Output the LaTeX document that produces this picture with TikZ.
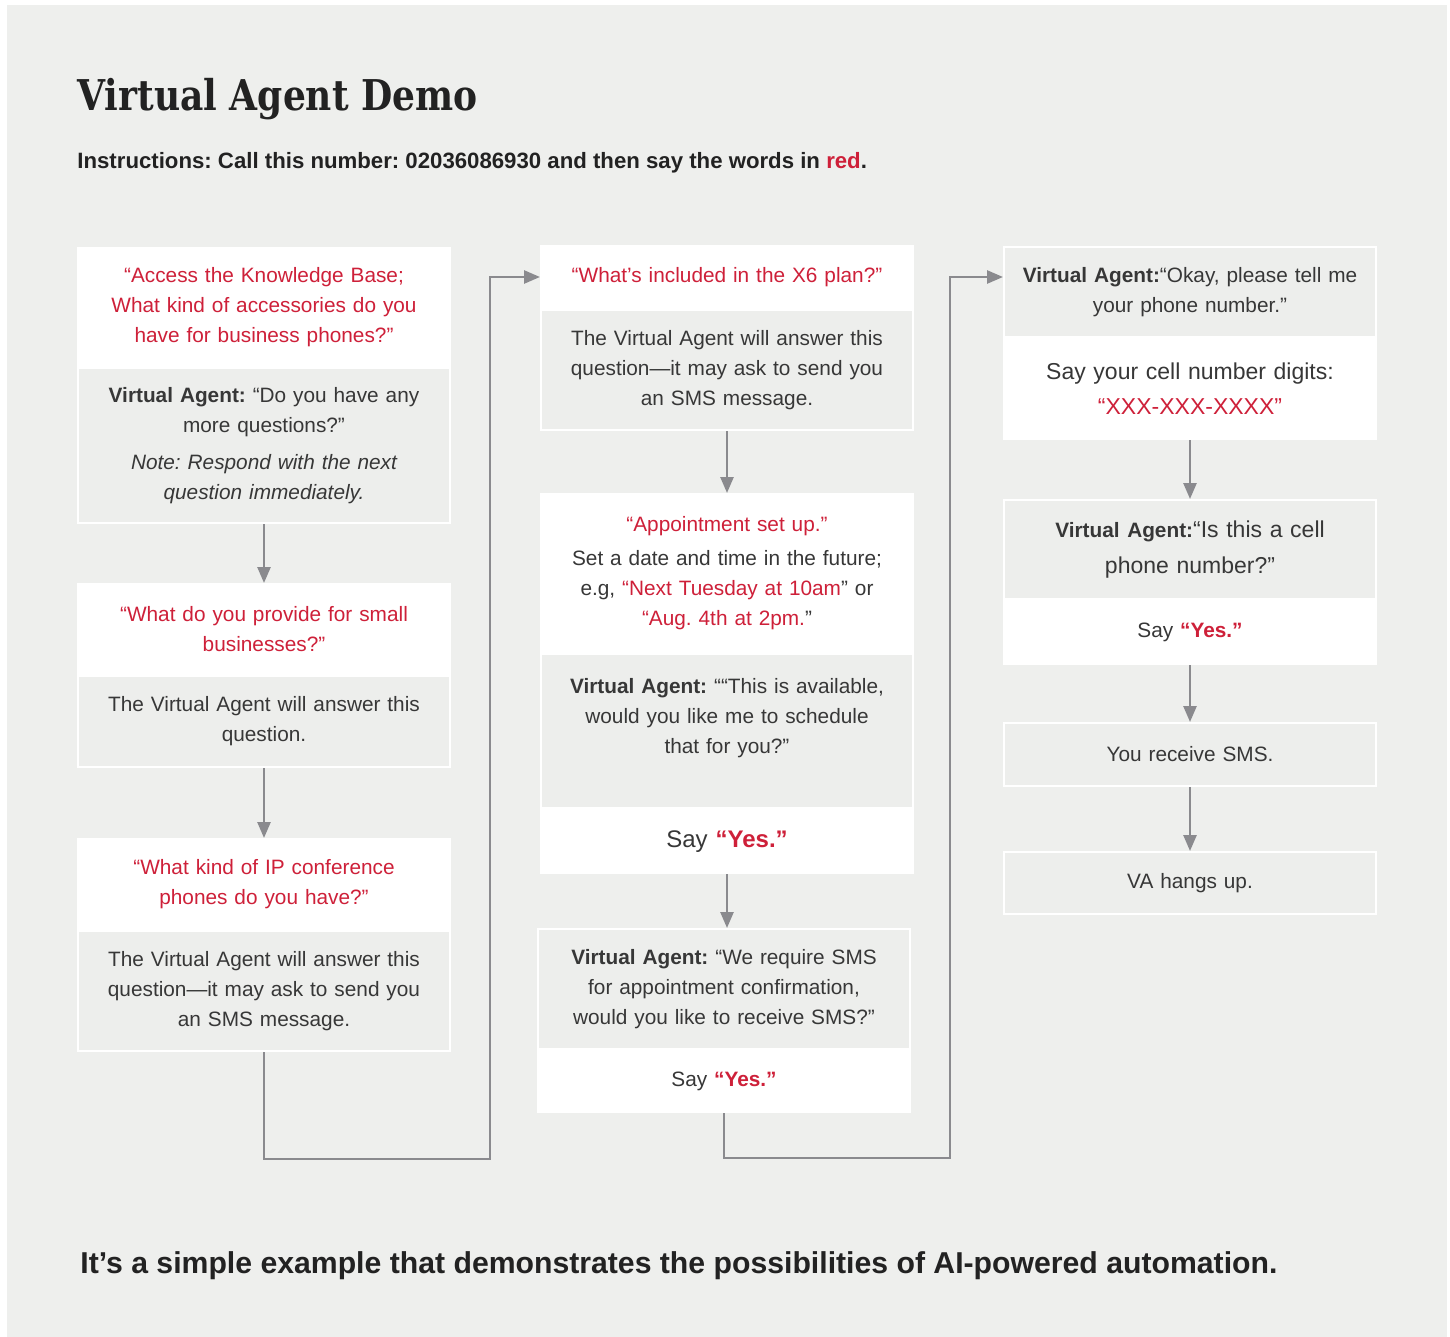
\documentclass[tikz,border=0pt]{standalone}
\usepackage{fontspec}
\setmainfont{Liberation Sans}
\newfontfamily\titlefont[FakeStretch=0.85]{DejaVu Serif}
\usetikzlibrary{positioning, arrows.meta}
\frenchspacing
\definecolor{PageGray}{RGB}{238,239,237}
\definecolor{PanelGray}{RGB}{237,238,236}
\definecolor{SayRed}{RGB}{206,32,57}
\definecolor{InkGray}{RGB}{55,55,55}
\definecolor{TitleInk}{RGB}{34,34,34}
\definecolor{FlowGray}{RGB}{138,138,142}
\newcommand{\sayit}[1]{\textcolor{SayRed}{#1}}
\newcommand{\vabold}{\textbf{Virtual Agent:}}
\newcommand{\sayyes}{Say \textbf{\sayit{“Yes.”}}}

\tikzset{
  card/.style={draw=white, line width=1pt, text width=180pt, inner xsep=3pt, inner ysep=0pt,
    align=center, text=InkGray, font=\fontsize{10.4}{15}\selectfont},
  say/.style={card, fill=white},
  ask/.style={say, text=SayRed},
  info/.style={card, fill=PanelGray},
  flow/.style={draw=FlowGray, line width=1.3pt, -{Triangle[width=6.5pt,length=8pt]}},
}

\begin{document}
\begin{tikzpicture}[x=0.5pt, y=-0.5pt]
  \useasboundingbox (0,0) rectangle (1450,1337);
  \fill[white] (0,0) rectangle (1450,1337);
  \fill[PageGray] (7,5) rectangle (1447,1337);

  % heading
  \node[anchor=base west, inner sep=0pt, text=TitleInk, font=\titlefont\bfseries\fontsize{21.2}{26}\selectfont] (title) at (77,111) {Virtual Agent Demo};
  \node[anchor=base west, inner sep=0pt, text=TitleInk, font=\bfseries\fontsize{11.1}{13}\selectfont] (instr) at (77,169)
    {Instructions: Call this number: 02036086930 and then say the words in \sayit{red}.};

  % first column
  \node[ask, minimum height=59pt, anchor=north west] (kb) at (77,247)
    {“Access the Knowledge Base;\\What kind of accessories do you\\have for business phones?”};
  \node[info, minimum height=77.5pt, below=0pt of kb] (kbva)
    {\vabold{} “Do you have any\\more questions?”\\[3.5pt]{\itshape Note: Respond with the next\\question immediately.}};
  \node[ask, minimum height=45pt, anchor=north west] (smb) at (77,583)
    {“What do you provide for small\\businesses?”};
  \node[info, minimum height=45.5pt, below=0pt of smb] (smbva)
    {The Virtual Agent will answer this\\question.};
  \node[ask, minimum height=45pt, anchor=north west] (ipc) at (77,838)
    {“What kind of IP conference\\phones do you have?”};
  \node[info, minimum height=60pt, below=0pt of ipc] (ipcva)
    {The Virtual Agent will answer this\\question—it may ask to send you\\an SMS message.};

  % second column
  \node[ask, minimum height=31pt, anchor=north west] (plan) at (540,245)
    {“What’s included in the X6 plan?”};
  \node[info, minimum height=60pt, below=0pt of plan] (planva)
    {The Virtual Agent will answer this\\question—it may ask to send you\\an SMS message.};
  \node[say, minimum height=79pt, anchor=north west] (appt) at (540,493)
    {\sayit{“Appointment set up.”}\\[2pt]Set a date and time in the future;\\e.g, \sayit{“Next Tuesday at 10am}” or\\\sayit{“Aug. 4th at 2pm.}”};
  \node[info, minimum height=77pt, below=0pt of appt] (apptva)
    {\vabold{} ““This is available,\\would you like me to schedule\\that for you?”\\\mbox{}};
  \node[say, minimum height=31.5pt, below=0pt of apptva, font=\fontsize{12}{15}\selectfont] (apptyes)
    {\sayyes};
  \node[info, minimum height=60pt, anchor=north west] (smsva) at (537,928)
    {\vabold{} “We require SMS\\for appointment confirmation,\\would you like to receive SMS?”};
  \node[say, minimum height=30.5pt, below=0pt of smsva] (smsyes)
    {\sayyes};

  % third column
  \node[info, minimum height=45pt, anchor=north west] (phone) at (1003,246)
    {\vabold“Okay, please tell me\\your phone number.”};
  \node[say, minimum height=50pt, below=0pt of phone, font=\fontsize{11.5}{17.5}\selectfont] (digits)
    {Say your cell number digits:\\\sayit{“XXX-XXX-XXXX”}};
  \node[info, minimum height=49.5pt, anchor=north west, font=\fontsize{11.5}{18}\selectfont] (cell) at (1003,499)
    {{\fontsize{10.4}{18}\selectfont\bfseries Virtual Agent:}“Is this a cell\\phone number?”};
  \node[say, minimum height=31.5pt, below=0pt of cell] (cellyes)
    {\sayyes};
  \node[info, minimum height=31.5pt, anchor=north west] (recv) at (1003,722)
    {You receive SMS.};
  \node[info, minimum height=31pt, anchor=north west] (hangup) at (1003,851)
    {VA hangs up.};

  % connectors
  \draw[flow] (kbva) -- (smb);
  \draw[flow] (smbva) -- (ipc);
  \coordinate (turn1) at (490,1159);
  \draw[flow] (ipcva.south) |- (turn1) |- (plan.west);
  \draw[flow] (planva) -- (appt);
  \draw[flow] (apptyes.south) -- (apptyes.south |- smsva.north);
  \coordinate (turn2) at (950,1158);
  \draw[flow] (smsyes.south) |- (turn2) |- (phone.west |- plan.west);
  \draw[flow] (digits) -- (cell);
  \draw[flow] (cellyes) -- (recv);
  \draw[flow] (recv) -- (hangup);

  % closing line
  \node[anchor=base west, inner sep=0pt, text=TitleInk, font=\bfseries\fontsize{15.1}{18}\selectfont] (outro) at (80,1273)
    {It’s a simple example that demonstrates the possibilities of AI-powered automation.};
\end{tikzpicture}
\end{document}
